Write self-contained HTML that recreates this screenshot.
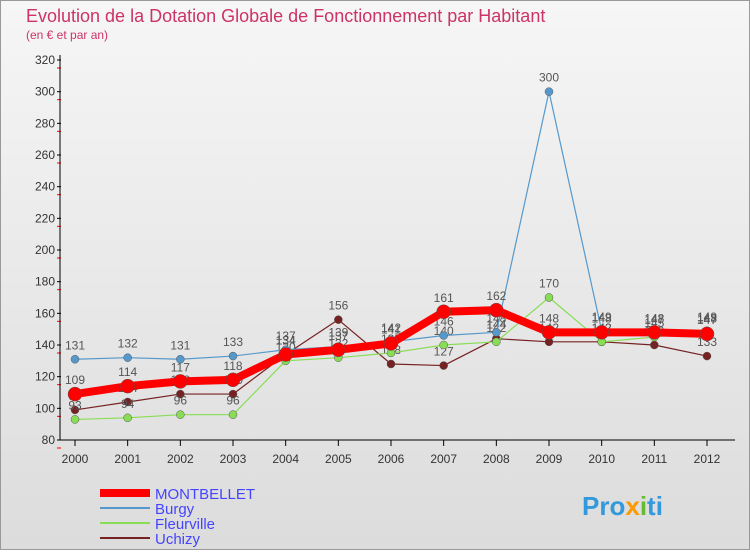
<!DOCTYPE html>
<html><head><meta charset="utf-8"><style>
body{margin:0;width:750px;height:550px;overflow:hidden;font-family:"Liberation Sans",sans-serif;}
</style></head><body>
<svg width="750" height="550" font-family="Liberation Sans, sans-serif">
<defs><linearGradient id="bg" x1="0" y1="0" x2="0" y2="1"><stop offset="0" stop-color="#f6f6f6"/><stop offset="1" stop-color="#dcdcdc"/></linearGradient></defs>
<rect width="750" height="550" fill="url(#bg)"/>
<rect x="0.5" y="0.5" width="749" height="549" fill="none" stroke="#999"/>
<text x="26" y="22" font-size="18" fill="#cc3366">Evolution de la Dotation Globale de Fonctionnement par Habitant</text>
<text x="26" y="39" font-size="12" fill="#cc3366">(en € et par an)</text>
<g id="axes"></g><g id="series"></g>
<g>
<line x1="100" y1="493" x2="150" y2="493" stroke="#ff0000" stroke-width="8"/>
<text x="155" y="499" font-size="15" fill="#4444ff">MONTBELLET</text>
<line x1="100" y1="508" x2="150" y2="508" stroke="#5599cc" stroke-width="2"/>
<text x="155" y="514" font-size="15" fill="#4444ff">Burgy</text>
<line x1="100" y1="523" x2="150" y2="523" stroke="#88dd55" stroke-width="2"/>
<text x="155" y="529" font-size="15" fill="#4444ff">Fleurville</text>
<line x1="100" y1="538" x2="150" y2="538" stroke="#772222" stroke-width="2"/>
<text x="155" y="544" font-size="15" fill="#4444ff">Uchizy</text>
</g>
<text x="582" y="515" font-size="26" font-weight="bold" fill="#3399dd">Pro<tspan fill="#ff9900">x</tspan><tspan fill="#66bb33">i</tspan>ti</text>
</svg>
<script>
const years=[2000,2001,2002,2003,2004,2005,2006,2007,2008,2009,2010,2011,2012];
const yTicks=[80,100,120,140,160,180,200,220,240,260,280,300,320];
const montbellet=[109,114,117,118,134,137,141,161,162,148,148,148,147];
const burgy=[131,132,131,133,137,139,142,146,148,300,149,147,148];
const fleurville=[93,94,96,96,130,132,135,140,142,170,142,145,149];
const uchizy=[99,104,109,109,134,156,128,127,144,142,142,140,133];
const NS='http://www.w3.org/2000/svg';
const X=i=>75+i*(632/(years.length-1));
const Y=v=>440-(v-80)*(380/240);
function mk(t,a,p){const e=document.createElementNS(NS,t);for(const k in a)e.setAttribute(k,a[k]);p.appendChild(e);return e;}
const ax=document.getElementById('axes');
yTicks.forEach(v=>{
const t=mk('text',{x:55,y:Y(v)+4,'font-size':12,fill:'#333','text-anchor':'end'},ax);t.textContent=v;


const k=mk('line',{x1:57,x2:61,y1:Y(v),y2:Y(v),stroke:'#000'},ax);


const m=mk('line',{x1:57,x2:61,y1:Y(v)+8,y2:Y(v)+8,stroke:'#ff0000'},ax);


});
const yl=mk('line',{x1:60,x2:60,y1:55,y2:440,stroke:'#000'},ax);


const xl=mk('line',{x1:60,x2:735,y1:440,y2:440,stroke:'#000'},ax);


years.forEach((y,i)=>{
const t=mk('text',{x:X(i),y:463,'font-size':12,fill:'#333','text-anchor':'middle'},ax);t.textContent=y;


const k=mk('line',{x1:X(i),x2:X(i),y1:440,y2:446,stroke:'#000'},ax);


});
const sg=document.getElementById('series');
function draw(name,data,color,w,r){
const p=mk('polyline',{points:data.map((v,i)=>X(i)+','+Y(v)).join(' '),fill:'none',stroke:color,'stroke-width':w,'stroke-linejoin':'round'},sg);


data.forEach((v,i)=>{
const c=mk('circle',{cx:X(i),cy:Y(v),r:r,fill:color,stroke:'#555','stroke-width':0.5},sg);


const t=mk('text',{x:X(i),y:Y(v)-10,'font-size':12,fill:'#555','text-anchor':'middle'},sg);t.textContent=v;


});
}
draw('uchizy',uchizy,'#772222',1.2,4);
draw('fleurville',fleurville,'#88dd55',1.2,4);
draw('burgy',burgy,'#5599cc',1.2,4);
draw('montbellet',montbellet,'#ff0000',8,7);
</script>
</body></html>
